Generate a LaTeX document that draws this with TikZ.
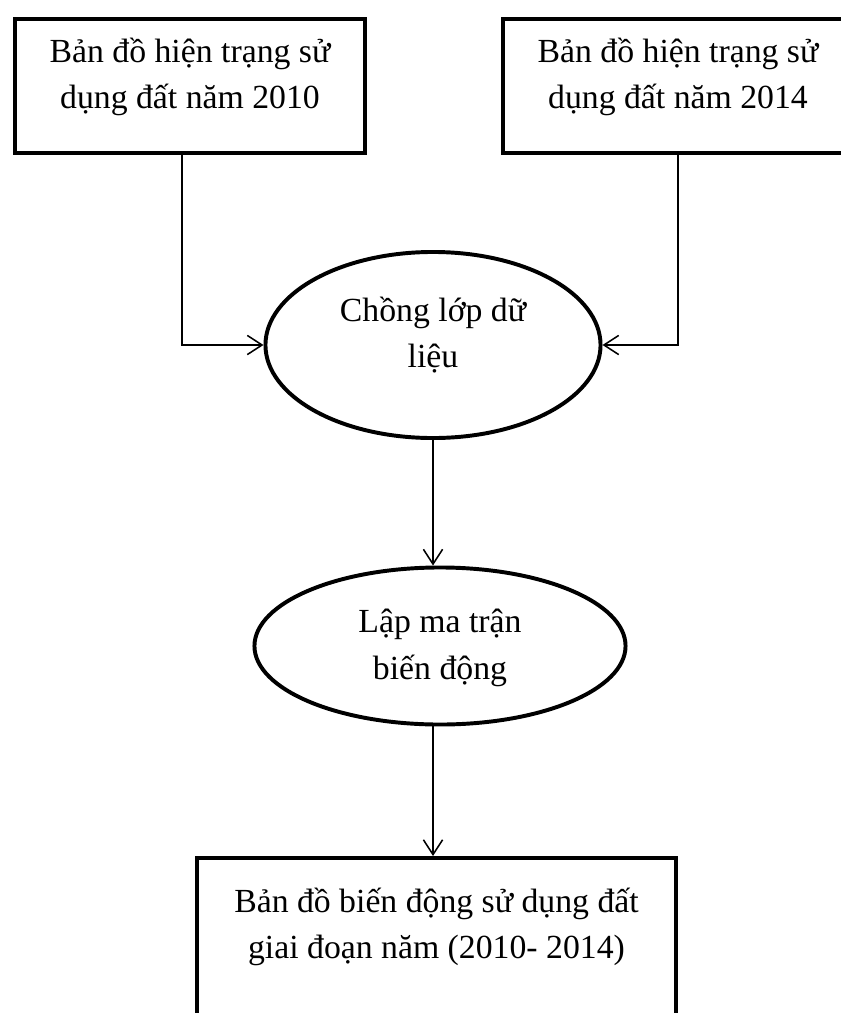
\documentclass[tikz,border=0pt]{standalone}
\usepackage{fontspec}
\setmainfont{Liberation Serif}
\usetikzlibrary{shapes.geometric,arrows.meta}

\tikzset{
  mapbox/.style={draw, line width=2.8pt, minimum width=8.75cm, minimum height=3.35cm},
  stepoval/.style={draw, ellipse, line width=2.8pt},
  lbl/.style={align=center, font=\fontsize{24}{33}\selectfont},
  conn/.style={line width=1.1pt, -{Straight Barb[length=0.37cm,width=0.48cm]}},
}

\begin{document}
\begin{tikzpicture}[x=0.025cm,y=-0.025cm]
  \useasboundingbox (0,0) rectangle (841,1013);
  \clip (0,0) rectangle (841,1013);
  % input maps
  \node[mapbox] (map10) at (190,86) {};
  \node[lbl] (map10 text) at (190,77) {Bản đồ hiện trạng sử\\dụng đất năm 2010};
  \node[mapbox] (map14) at (678,86) {};
  \node[lbl] (map14 text) at (678,77) {Bản đồ hiện trạng sử\\dụng đất năm 2014};
  % processing steps
  \node[stepoval, minimum width=8.375cm, minimum height=4.65cm] (overlay) at (433,345) {};
  \node[lbl] (overlay text) at (433,335) {Chồng lớp dữ\\liệu};
  \node[stepoval, minimum width=9.275cm, minimum height=3.925cm] (chgmatrix) at (440,646) {};
  \node[lbl] (chgmatrix text) at (440,648) {Lập ma trận\\biến động};
  % result
  \node[mapbox, minimum width=11.975cm, minimum height=5cm] (result) at (436.5,958) {};
  \node[lbl] (result text) at (436.5,927) {Bản đồ biến động sử dụng đất\\giai đoạn năm (2010- 2014)};
  % connectors
  \draw[conn] ([xshift=-0.2cm]map10.south) |- (overlay.west);
  \draw[conn] (map14.south) |- (overlay.east);
  \draw[conn] (overlay.south) -- (overlay.south |- chgmatrix.north);
  \draw[conn] (chgmatrix.south -| overlay.south) -- (result.north -| overlay.south);
\end{tikzpicture}
\end{document}
